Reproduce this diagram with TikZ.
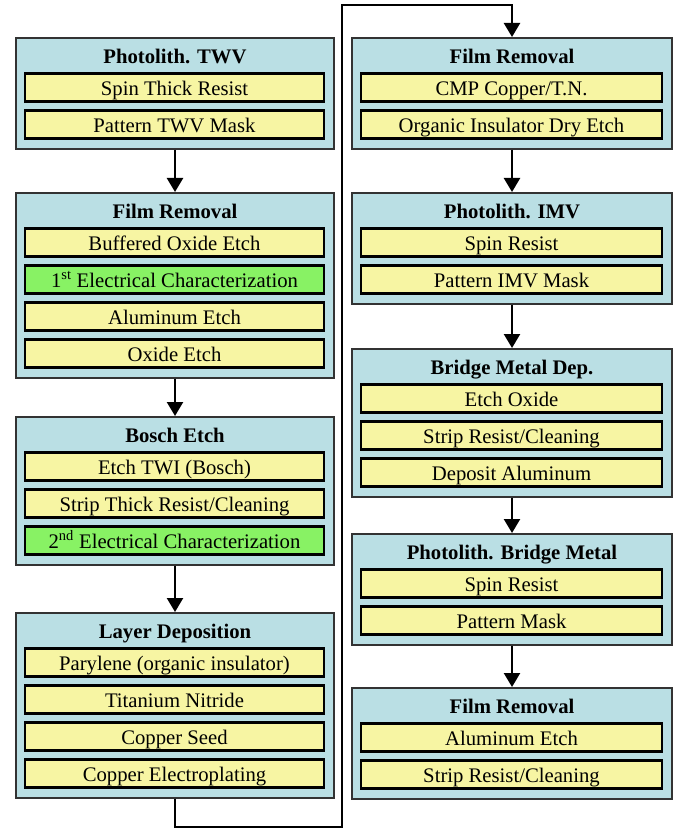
\documentclass[tikz,border=0pt]{standalone}
\usepackage{fontspec}
\setmainfont{Liberation Serif}
\usetikzlibrary{arrows.meta}
\definecolor{stageblue}{RGB}{186,223,228}
\definecolor{itemyellow}{RGB}{247,245,163}
\definecolor{checkgreen}{RGB}{136,242,100}

\begin{document}
\begin{tikzpicture}[
	x=1pt, y=-1pt,
	stage/.style={draw=black!80, line width=1.6pt, fill=stageblue, minimum width=318pt, anchor=north},
	item/.style={draw=black, line width=2.2pt, fill=itemyellow, minimum width=299pt, minimum height=28pt, inner sep=0pt, text height=15.5pt, text depth=0pt, font=\fontsize{20.7}{24}\selectfont},
	check/.style={item, fill=checkgreen},
	head/.style={inner sep=0pt, text height=13pt, text depth=0pt, font=\fontsize{20.7}{24}\selectfont\bfseries},
	flow/.style={line width=2.4pt, -{Triangle[width=16pt,length=14pt]}}
	]
\useasboundingbox (0,0) rectangle (684,829);

% left column
\node[stage, minimum height=111pt] at (175,37) (s1){};
\node[head] at (175,57) (h1){Photolith. TWV};
\node[item] at (174.5,87.5) (a1){Spin Thick Resist};
\node[item] at (174.5,124.5) (a2){Pattern TWV Mask};

\node[stage, minimum height=185pt] at (175,192) (s2){};
\node[head] at (175,212) (h2){Film Removal};
\node[item] at (174.5,242.5) (b1){Buffered Oxide Etch};
\node[check] at (174.5,279.5) (b2){1\textsuperscript{st} Electrical Characterization};
\node[item] at (174.5,316.5) (b3){Aluminum Etch};
\node[item] at (174.5,353.5) (b4){Oxide Etch};

\node[stage, minimum height=148pt] at (175,416) (s3){};
\node[head] at (175,436) (h3){Bosch Etch};
\node[item] at (174.5,466.5) (c1){Etch TWI (Bosch)};
\node[item] at (174.5,503.5) (c2){Strip Thick Resist/Cleaning};
\node[check] at (174.5,540.5) (c3){2\textsuperscript{nd} Electrical Characterization};

\node[stage, minimum height=185pt] at (175,612) (s4){};
\node[head] at (175,632) (h4){Layer Deposition};
\node[item] at (174.5,662.5) (d1){Parylene (organic insulator)};
\node[item] at (174.5,699.5) (d2){Titanium Nitride};
\node[item] at (174.5,736.5) (d3){Copper Seed};
\node[item] at (174.5,773.5) (d4){Copper Electroplating};

% right column
\node[stage, minimum width=320pt, minimum height=111pt] at (512,37) (s5){};
\node[head] at (512,57) (h5){Film Removal};
\node[item, minimum width=301pt] at (511.5,87.5) (e1){CMP Copper/T.N.};
\node[item, minimum width=301pt] at (511.5,124.5) (e2){Organic Insulator Dry Etch};

\node[stage, minimum width=320pt, minimum height=111pt] at (512,192) (s6){};
\node[head] at (512,212) (h6){Photolith. IMV};
\node[item, minimum width=301pt] at (511.5,242.5) (f1){Spin Resist};
\node[item, minimum width=301pt] at (511.5,279.5) (f2){Pattern IMV Mask};

\node[stage, minimum width=320pt, minimum height=148pt] at (512,348) (s7){};
\node[head] at (512,368) (h7){Bridge Metal Dep.};
\node[item, minimum width=301pt] at (511.5,398.5) (g1){Etch Oxide};
\node[item, minimum width=301pt] at (511.5,435.5) (g2){Strip Resist/Cleaning};
\node[item, minimum width=301pt] at (511.5,472.5) (g3){Deposit Aluminum};

\node[stage, minimum width=320pt, minimum height=111pt] at (512,533) (s8){};
\node[head] at (512,553) (h8){Photolith. Bridge Metal};
\node[item, minimum width=301pt] at (511.5,583.5) (k1){Spin Resist};
\node[item, minimum width=301pt] at (511.5,620.5) (k2){Pattern Mask};

\node[stage, minimum width=320pt, minimum height=111pt] at (512,687) (s9){};
\node[head] at (512,707) (h9){Film Removal};
\node[item, minimum width=301pt] at (511.5,737.5) (m1){Aluminum Etch};
\node[item, minimum width=301pt] at (511.5,774.5) (m2){Strip Resist/Cleaning};

% flow
\coordinate (j1) at (342,827);
\coordinate (j2) at (342,5);

\draw[flow] (s1.south) -- (s2.north);
\draw[flow] (s2.south) -- (s3.north);
\draw[flow] (s3.south) -- (s4.north);
\draw[flow] (s4.south) |- (j1) -- (j2) -| (s5.north);
\draw[flow] (s5.south) -- (s6.north);
\draw[flow] (s6.south) -- (s7.north);
\draw[flow] (s7.south) -- (s8.north);
\draw[flow] (s8.south) -- (s9.north);

\end{tikzpicture}
\end{document}
